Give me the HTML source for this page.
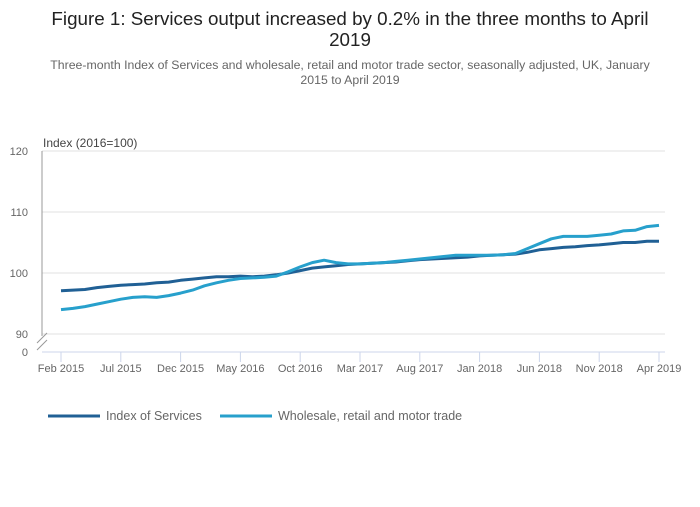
<!DOCTYPE html>
<html><head><meta charset="utf-8"><style>
body{margin:0;background:#fff;font-family:"Liberation Sans",sans-serif;}
svg text{font-family:"Liberation Sans",sans-serif;}
</style></head><body>
<svg width="700" height="502" viewBox="0 0 700 502">
<text x="350" y="25" text-anchor="middle" font-size="18.8" fill="#222">Figure 1: Services output increased by 0.2% in the three months to April</text>
<text x="350" y="46" text-anchor="middle" font-size="18.8" fill="#222">2019</text>
<text x="350" y="69" text-anchor="middle" font-size="12.3" fill="#666">Three-month Index of Services and wholesale, retail and motor trade sector, seasonally adjusted, UK, January</text>
<text x="350" y="84" text-anchor="middle" font-size="12.3" fill="#666">2015 to April 2019</text>
<text x="43" y="147" font-size="12" fill="#444">Index (2016=100)</text>
<g id="grid"></g>
<g id="axes"></g>
<g id="series"></g>
<g>
<line x1="48" y1="416" x2="100" y2="416" stroke="#206095" stroke-width="3"/>
<text x="106" y="420" font-size="12.5" fill="#666">Index of Services</text>
<line x1="220" y1="416" x2="272" y2="416" stroke="#27a0cc" stroke-width="3"/>
<text x="278" y="420" font-size="12.5" fill="#666">Wholesale, retail and motor trade</text>
</g>
</svg>
<script>
const yTicks=[90,100,110,120];
const xTickLabels=["Feb 2015","Jul 2015","Dec 2015","May 2016","Oct 2016","Mar 2017","Aug 2017","Jan 2018","Jun 2018","Nov 2018","Apr 2019"];
const services=[97.1,97.2,97.3,97.6,97.8,98.0,98.1,98.2,98.4,98.5,98.8,
99.0,99.2,99.4,99.4,99.5,99.4,99.5,99.7,100.0,100.4,100.8,101.0,
101.2,101.4,101.5,101.6,101.7,101.8,102.0,102.2,102.3,102.4,102.5,102.6,
102.8,102.9,103.0,103.1,103.4,103.8,104.0,104.2,104.3,104.5,104.6,104.8,
105.0,105.0,105.2,105.2];
const wholesale=[94.0,94.2,94.5,94.9,95.3,95.7,96.0,96.1,96.0,96.3,96.7,
97.2,97.9,98.4,98.8,99.1,99.2,99.3,99.5,100.2,101.0,101.7,102.1,
101.7,101.5,101.5,101.6,101.7,101.9,102.1,102.3,102.5,102.7,102.9,102.9,
102.9,102.9,103.0,103.2,104.0,104.8,105.6,106.0,106.0,106.0,106.2,106.4,
106.9,107.0,107.6,107.8];
const NS="http://www.w3.org/2000/svg";
const x=i=>61+i*(659-61)/50;
const y=v=>273-(v-100)*6.1;
const grid=document.getElementById('grid'),axes=document.getElementById('axes'),ser=document.getElementById('series');
function mk(tag,attrs,parent){const e=document.createElementNS(NS,tag);for(const k in attrs)e.setAttribute(k,attrs[k]);parent.appendChild(e);return e;}
yTicks.forEach(t=>{
 const l=mk('line',{x1:42,x2:665,y1:y(t),y2:y(t),stroke:'#e0e0e0'},grid);
 
 
 const tx=mk('text',{x:28,y:y(t)+4,'text-anchor':'end','font-size':11,fill:'#666'},grid);
 tx.textContent=t;
 
 
});
const z=mk('text',{x:28,y:356,'text-anchor':'end','font-size':11,fill:'#666'},grid);z.textContent='0';


const ya=mk('line',{x1:42,x2:42,y1:151,y2:336,stroke:'#999'},axes);


const br=mk('path',{d:'M37 343 L47 333 M37 350 L47 340',stroke:'#999',fill:'none'},axes);


const xa=mk('line',{x1:42,x2:665,y1:352,y2:352,stroke:'#ccd6eb'},axes);


xTickLabels.forEach((lab,k)=>{
 const px=x(k*5);
 const tk=mk('line',{x1:px,x2:px,y1:352,y2:362,stroke:'#ccd6eb'},axes);
 
 
 const tx=mk('text',{x:px,y:372,'text-anchor':'middle','font-size':11,fill:'#666'},axes);
 tx.textContent=lab;
 
 
});
function line(data,color,name){
 const d=data.map((v,i)=>(i?'L':'M')+x(i).toFixed(1)+' '+y(v).toFixed(1)).join(' ');
 const p=mk('path',{d:d,stroke:color,'stroke-width':3,fill:'none','stroke-linejoin':'round'},ser);
 
 
}
line(services,'#206095','line-index-of-services');
line(wholesale,'#27a0cc','line-wholesale-retail-motor');
</script>
</body></html>
